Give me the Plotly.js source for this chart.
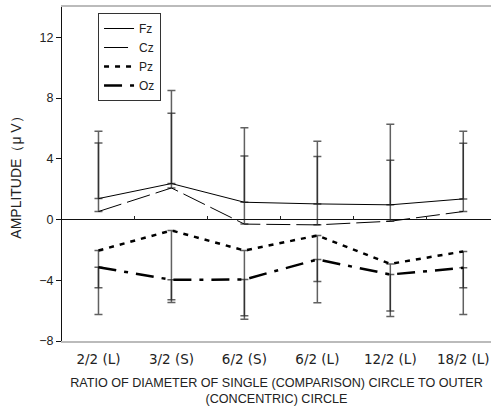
<!DOCTYPE html>
<html><head><meta charset="utf-8">
<script src="https://cdn.plot.ly/plotly-3.0.1.min.js"></script>
<style>body{margin:0;background:#fff}</style>
</head><body><div id="chart" style="width:491px;height:408px"></div>
<script>
const categories = ["2/2 (L)", "3/2 (S)", "6/2 (S)", "6/2 (L)", "12/2 (L)", "18/2 (L)"];
const fz = [1.38, 2.37, 1.14, 1.03, 0.97, 1.36];
const fzErr = [4.43, 6.13, 4.91, 4.12, 5.30, 4.45];
const cz = [0.53, 2.08, -0.30, -0.35, -0.11, 0.53];
const czErr = [4.52, 4.92, 4.48, 4.51, 4.01, 4.49];
const pz = [-2.04, -0.72, -2.04, -1.05, -2.92, -2.10];
const pzErr = [4.21, 4.74, 4.52, 4.43, 3.46, 4.15];
const oz = [-3.14, -3.97, -3.95, -2.63, -3.62, -3.18];
const ozErr = [1.35, 1.31, 2.39, 1.45, 2.41, 1.31];
const yTicks = [-8, -4, 0, 4, 8, 12];
const boundaryTicks = [0.5, 1.5, 2.5, 3.5, 4.5];
const zeros = categories.map(() => 0);

const errStyle = {color: "rgba(30,30,30,0.7)", thickness: 1.5, width: 4};
function upErr(a){ return Object.assign({type:"data", symmetric:false, array:a, arrayminus:zeros}, errStyle); }
function downErr(a){ return Object.assign({type:"data", symmetric:false, array:zeros, arrayminus:a}, errStyle); }

const traces = [
  {x: categories, y: fz, name: "Fz", type: "scatter", mode: "lines",
   line: {color: "#000", width: 1}, error_y: upErr(fzErr)},
  {x: categories, y: cz, name: "Cz", type: "scatter", mode: "lines",
   line: {color: "#000", width: 1, dash: "24px,6px"}, error_y: upErr(czErr)},
  {x: categories, y: pz, name: "Pz", type: "scatter", mode: "lines",
   line: {color: "#000", width: 2.5, dash: "5px,6px"}, error_y: downErr(pzErr)},
  {x: categories, y: oz, name: "Oz", type: "scatter", mode: "lines",
   line: {color: "#000", width: 2.5, dash: "18px,8px,4px,8px"}, error_y: downErr(ozErr)},
  {x: [0], y: [0], xaxis: "x2", type: "scatter", mode: "markers",
   marker: {opacity: 0}, showlegend: false, hoverinfo: "skip"}
];

const layout = {
  width: 491, height: 408,
  margin: {l: 62, r: 0, t: 7, b: 67},
  paper_bgcolor: "#fff", plot_bgcolor: "#fff",
  font: {family: "Liberation Sans, Arial, sans-serif", color: "#222"},
  showlegend: true,
  legend: {x: 0.084, y: 0.982, xanchor: "left", yanchor: "top",
           bordercolor: "#333", borderwidth: 1, bgcolor: "#fff",
           font: {size: 12, color: "#222"}, tracegroupgap: 0},
  xaxis: {type: "category", range: [-0.5, 5.38], showgrid: false,
          showline: true, linecolor: "#bbb", linewidth: 2, mirror: true,
          ticks: "", ticklabelstandoff: 5,
          tickfont: {family: "DejaVu Sans, sans-serif", size: 13.5, color: "#222"},
          title: {text: "RATIO OF DIAMETER OF SINGLE (COMPARISON) CIRCLE TO OUTER<br>(CONCENTRIC) CIRCLE",
                  font: {size: 12.6, color: "#222"}, standoff: 12}},
  xaxis2: {overlaying: "x", anchor: "free", position: 8/22, range: [-0.5, 5.38],
           showgrid: false, showline: false, zeroline: false, showticklabels: false,
           tickmode: "array", tickvals: boundaryTicks, ticks: "inside", ticklen: 4,
           tickcolor: "#222", tickwidth: 1},
  yaxis: {range: [-8, 14], tickmode: "array", tickvals: yTicks, showgrid: false,
          showline: true, linecolor: "#111", linewidth: 1,
          zeroline: true, zerolinecolor: "#111", zerolinewidth: 1,
          ticks: "outside", ticklen: 5, tickcolor: "#111",
          tickfont: {size: 12.5, color: "#222"},
          title: {text: "AMPLITUDE（μ V）", font: {size: 14, color: "#222"}, standoff: 14}}
};

Plotly.newPlot("chart", traces, layout, {displayModeBar: false, staticPlot: true});
</script></body></html>
